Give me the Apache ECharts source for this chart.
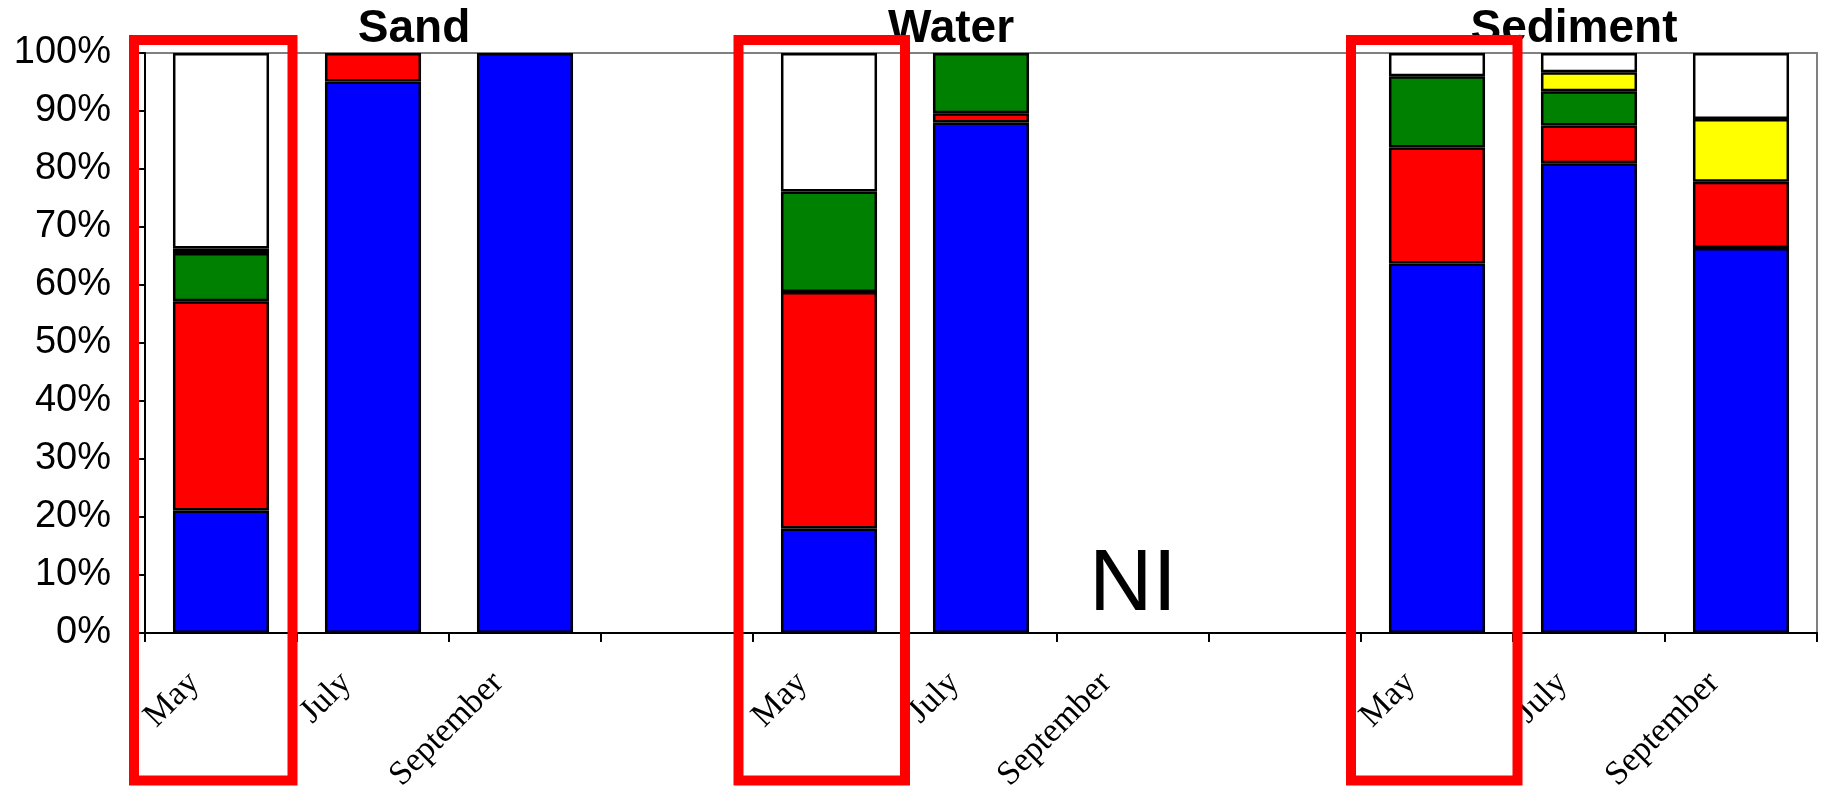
<!DOCTYPE html>
<html>
<head>
<meta charset="utf-8">
<script src="https://cdn.jsdelivr.net/npm/echarts@6/dist/echarts.min.js"></script>
<style>
html,body{margin:0;padding:0;background:#fff;}
#chart{width:1823px;height:792px;}
</style>
</head>
<body>
<div id="chart"></div>
<script>
// Categories (Sand: May, July, September | gap | Water: ... | gap | Sediment: ...)
var categories = ['May', 'July', 'September', '', 'May', 'July', 'September', '', 'May', 'July', 'September'];
// Stacked percentages, bottom to top
var blueValues   = [21.1, 95.1, 100, null, 18.0, 88.0, null, null, 63.7, 81.0, 66.4];
var redValues    = [36.1, 4.9,  null, null, 40.8, 1.6,  null, null, 20.0, 6.5,  11.4];
var greenValues  = [8.3,  null, null, null, 17.3, 10.4, null, null, 12.3, 5.9,  null];
var yellowValues = [0.8,  null, null, null, null, null, null, null, null, 3.3,  10.8];
var whiteValues  = [33.7, null, null, null, 23.9, null, null, null, 4.0,  3.3,  11.4];
var yTickValues  = [0, 10, 20, 30, 40, 50, 60, 70, 80, 90, 100];
var groupTitles  = ['Sand', 'Water', 'Sediment'];
var notInvestigatedLabel = 'NI';
var notInvestigatedIndex = 6;

var chart = echarts.init(document.getElementById('chart'), null, {renderer: 'canvas'});

function stackSeries(name, data, color) {
  return {
    name: name,
    type: 'bar',
    stack: 'total',
    data: data,
    barWidth: '63.2%',
    itemStyle: {color: color, borderColor: '#000', borderWidth: 2.5},
    emphasis: {disabled: true}
  };
}

var series = [
  stackSeries('Blue', blueValues, '#0000FF'),
  stackSeries('Red', redValues, '#FF0000'),
  stackSeries('Green', greenValues, '#008000'),
  stackSeries('Yellow', yellowValues, '#FFFF00'),
  stackSeries('White', whiteValues, '#FFFFFF')
];
series[0].markPoint = {
  symbol: 'rect',
  symbolSize: 1,
  itemStyle: {color: 'rgba(0,0,0,0)'},
  label: {
    show: true,
    position: 'inside',
    formatter: notInvestigatedLabel,
    fontFamily: 'Liberation Sans, Arial, sans-serif',
    fontSize: 88,
    color: '#000'
  },
  data: [{coord: [notInvestigatedIndex, 8.2]}]
};

var titleFont = 'bold 46px "Liberation Sans", Arial, sans-serif';

var option = {
  animation: false,
  backgroundColor: '#fff',
  grid: {
    left: 145, right: 6, top: 53, bottom: 159,
    containLabel: false,
    outerBoundsMode: 'none',
    show: true, borderColor: '#808080', borderWidth: 2, backgroundColor: 'transparent'
  },
  xAxis: {
    type: 'category',
    data: categories,
    boundaryGap: true,
    axisLine: {show: true, lineStyle: {color: '#000', width: 2}},
    axisTick: {show: true, length: 9, lineStyle: {color: '#000', width: 2}, alignWithLabel: false, interval: 0},
    axisLabel: {
      interval: 0,
      rotate: 45,
      margin: 18,
      padding: [0, 38, 0, 0],
      hideOverlap: false,
      fontFamily: '"Liberation Serif", "Times New Roman", serif',
      fontSize: 34,
      color: '#000'
    },
    splitLine: {show: false}
  },
  yAxis: {
    type: 'value',
    min: yTickValues[0],
    max: yTickValues[yTickValues.length - 1],
    interval: 10,
    axisLine: {show: true, lineStyle: {color: '#000', width: 2}},
    axisTick: {show: true, length: 6, lineStyle: {color: '#000', width: 2}},
    axisLabel: {
      formatter: '{value}%',
      margin: 34,
      fontFamily: '"Liberation Sans", Arial, sans-serif',
      fontSize: 38,
      color: '#000'
    },
    splitLine: {show: false}
  },
  graphic: [
    {type: 'text', x: 414, y: 29, style: {text: groupTitles[0], font: titleFont, fill: '#000', align: 'center', verticalAlign: 'middle'}},
    {type: 'text', x: 951, y: 29, style: {text: groupTitles[1], font: titleFont, fill: '#000', align: 'center', verticalAlign: 'middle'}},
    {type: 'text', x: 1574, y: 29, style: {text: groupTitles[2], font: titleFont, fill: '#000', align: 'center', verticalAlign: 'middle'}},
    {type: 'rect', shape: {x: 134, y: 40, width: 158.5, height: 740.5}, style: {fill: 'none', stroke: '#FF0000', lineWidth: 10}, z: 100},
    {type: 'rect', shape: {x: 738.5, y: 40, width: 166.5, height: 740.5}, style: {fill: 'none', stroke: '#FF0000', lineWidth: 10}, z: 100},
    {type: 'rect', shape: {x: 1351, y: 40, width: 166.5, height: 740.5}, style: {fill: 'none', stroke: '#FF0000', lineWidth: 10}, z: 100}
  ],
  series: series
};
chart.setOption(option);
</script>
</body>
</html>
